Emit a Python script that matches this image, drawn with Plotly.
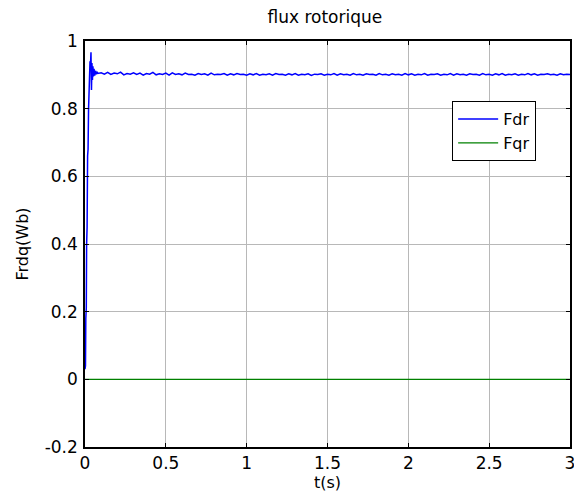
import plotly.graph_objects as go

# transient part of rotor flux (d-axis)
t_start = [0.0, 0.003, 0.005, 0.008, 0.010, 0.013, 0.016, 0.019, 0.022, 0.025, 0.028,
           0.031, 0.034, 0.037, 0.040, 0.043, 0.046, 0.049, 0.052, 0.056, 0.060,
           0.065, 0.070, 0.075, 0.080]
fdr_start = [0.03, 0.04, 0.18, 0.21, 0.40, 0.45, 0.66, 0.68, 0.80, 0.86, 0.90,
             0.94, 0.93, 0.967, 0.855, 0.935, 0.885, 0.925, 0.895, 0.918, 0.898,
             0.912, 0.902, 0.909, 0.904]

# steady state (hand-read noisy plateau)
t_steady = [0.10, 0.12, 0.14, 0.16, 0.18, 0.20, 0.22, 0.24, 0.26, 0.28,
            0.30, 0.32, 0.34, 0.36, 0.38, 0.40, 0.42, 0.44, 0.46, 0.48,
            0.50, 0.52, 0.54, 0.56, 0.58, 0.60, 0.62, 0.64, 0.66, 0.68,
            0.70, 0.72, 0.74, 0.76, 0.78, 0.80, 0.82, 0.84, 0.86, 0.88,
            0.90, 0.92, 0.94, 0.96, 0.98, 1.00, 1.02, 1.04, 1.06, 1.08,
            1.10, 1.12, 1.14, 1.16, 1.18, 1.20, 1.22, 1.24, 1.26, 1.28,
            1.30, 1.32, 1.34, 1.36, 1.38, 1.40, 1.42, 1.44, 1.46, 1.48,
            1.50, 1.52, 1.54, 1.56, 1.58, 1.60, 1.62, 1.64, 1.66, 1.68,
            1.70, 1.72, 1.74, 1.76, 1.78, 1.80, 1.82, 1.84, 1.86, 1.88,
            1.90, 1.92, 1.94, 1.96, 1.98, 2.00, 2.02, 2.04, 2.06, 2.08,
            2.10, 2.12, 2.14, 2.16, 2.18, 2.20, 2.22, 2.24, 2.26, 2.28,
            2.30, 2.32, 2.34, 2.36, 2.38, 2.40, 2.42, 2.44, 2.46, 2.48,
            2.50, 2.52, 2.54, 2.56, 2.58, 2.60, 2.62, 2.64, 2.66, 2.68,
            2.70, 2.72, 2.74, 2.76, 2.78, 2.80, 2.82, 2.84, 2.86, 2.88,
            2.90, 2.92, 2.94, 2.96, 2.98, 3.00]
fdr_steady = [0.906, 0.902, 0.907, 0.901, 0.905, 0.903, 0.908, 0.900, 0.904, 0.902,
              0.906, 0.901, 0.905, 0.899, 0.904, 0.902, 0.907, 0.900, 0.903, 0.901,
              0.905, 0.899, 0.906, 0.901, 0.903, 0.900, 0.905, 0.901, 0.902, 0.899,
              0.904, 0.901, 0.903, 0.899, 0.905, 0.900, 0.902, 0.901, 0.904, 0.899,
              0.903, 0.900, 0.904, 0.901, 0.902, 0.899, 0.903, 0.900, 0.904, 0.899,
              0.902, 0.900, 0.903, 0.899, 0.904, 0.901, 0.902, 0.899, 0.903, 0.900,
              0.904, 0.899, 0.902, 0.900, 0.903, 0.898, 0.902, 0.901, 0.903, 0.899,
              0.902, 0.900, 0.904, 0.899, 0.903, 0.900, 0.902, 0.899, 0.904, 0.900,
              0.902, 0.899, 0.903, 0.901, 0.902, 0.899, 0.904, 0.900, 0.902, 0.899,
              0.903, 0.900, 0.902, 0.899, 0.904, 0.900, 0.903, 0.899, 0.902, 0.900,
              0.904, 0.899, 0.902, 0.901, 0.903, 0.899, 0.902, 0.900, 0.904, 0.899,
              0.903, 0.900, 0.902, 0.899, 0.903, 0.901, 0.902, 0.899, 0.904, 0.900,
              0.902, 0.899, 0.903, 0.900, 0.904, 0.899, 0.902, 0.900, 0.903, 0.899,
              0.902, 0.900, 0.904, 0.900, 0.903, 0.899, 0.902, 0.901, 0.903, 0.900,
              0.902, 0.899, 0.903, 0.900, 0.902, 0.901]

t_fqr = [0.0, 3.0]
fqr = [0.0, 0.0]

x_ticks = [0, 0.5, 1, 1.5, 2, 2.5, 3]
x_labels = ["0", "0.5", "1", "1.5", "2", "2.5", "3"]
y_ticks = [-0.2, 0, 0.2, 0.4, 0.6, 0.8, 1]
y_labels = ["-0.2", "0", "0.2", "0.4", "0.6", "0.8", "1"]

font = "DejaVu Sans, Liberation Sans, Arial, sans-serif"

fig = go.Figure()
fig.add_trace(go.Scatter(x=t_start + t_steady, y=fdr_start + fdr_steady, mode="lines",
                         name="Fdr", line=dict(color="#0000ff", width=1.5)))
fig.add_trace(go.Scatter(x=t_fqr, y=fqr, mode="lines", name="Fqr",
                         line=dict(color="#008000", width=1.3)))

axis_common = dict(showgrid=True, gridcolor="#b8b8b8", gridwidth=1,
                   showline=True, linecolor="black", linewidth=1.5, mirror="ticks",
                   ticks="inside", ticklen=4, tickcolor="black", zeroline=False,
                   automargin=False, ticklabeloverflow="allow",
                   tickfont=dict(family=font, size=17, color="black"))

fig.update_xaxes(range=[0, 3], tickvals=x_ticks, ticktext=x_labels, ticklabelstandoff=0,
                 title=dict(text="t(s)", font=dict(family=font, size=16, color="black"), standoff=4),
                 **axis_common)
fig.update_yaxes(range=[-0.2, 1], tickvals=y_ticks, ticktext=y_labels, ticklabelstandoff=2,
                 title=dict(text="Frdq(Wb)", font=dict(family=font, size=16, color="black"), standoff=12),
                 **axis_common)

fig.update_layout(
    width=574, height=493,
    margin=dict(l=85, r=4, t=41, b=46),
    paper_bgcolor="white", plot_bgcolor="white",
    title=dict(text="flux rotorique", x=0.566, xanchor="center", y=0.965, yanchor="middle",
               font=dict(family=font, size=17, color="black")),
    legend=dict(x=0.757, y=0.852, xanchor="left", yanchor="top",
                bgcolor="white", bordercolor="black", borderwidth=1,
                font=dict(family=font, size=16, color="black"),
                tracegroupgap=0, itemwidth=40),
    showlegend=True,
)

fig.write_html("out.html")
